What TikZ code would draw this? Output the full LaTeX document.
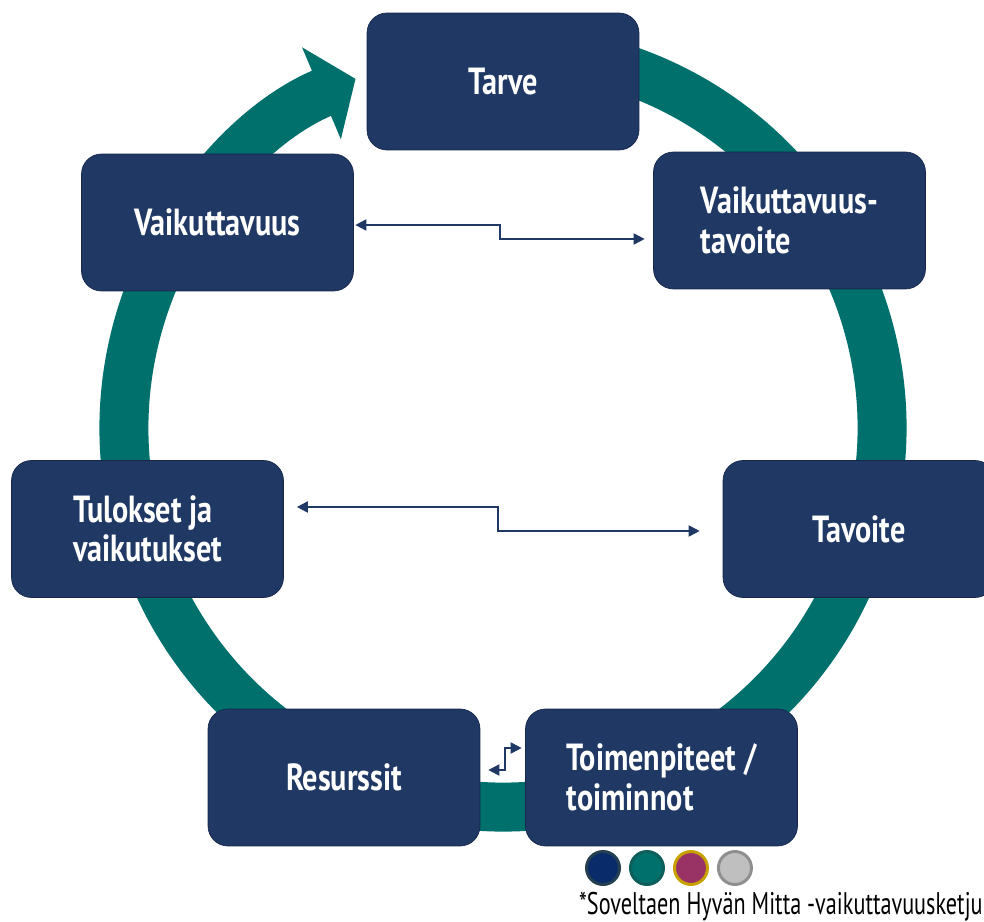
\documentclass[tikz,border=0pt]{standalone}
\usepackage{fontspec}
\setmainfont[FakeStretch=0.8]{PT Sans}
\newfontfamily\notefont[FakeStretch=0.71]{PT Sans}
\usetikzlibrary{arrows.meta,positioning,calc}
\definecolor{navy}{HTML}{203864}
\definecolor{navyline}{HTML}{15264A}
\definecolor{teal}{HTML}{00706C}
\definecolor{dotblue}{HTML}{0A2B6A}
\definecolor{dotslate}{HTML}{243F4F}
\definecolor{dotteal}{HTML}{0E5F5C}
\definecolor{plum}{HTML}{993366}
\definecolor{gold}{HTML}{C8A000}
\definecolor{silver}{HTML}{BFBFBF}
\definecolor{steel}{HTML}{8F8F8F}
\tikzset{stage/.style={draw=navyline,fill=navy,rounded corners=0.4cm,minimum width=5.44cm,minimum height=2.74cm,text=white,align=left,font=\fontsize{21.5}{22.5}\selectfont\bfseries}, link/.style={{Triangle[length=2.2mm,width=2.2mm]}-{Triangle[length=2.2mm,width=2.2mm]},line width=1.1pt,draw=navy}, ring/.style={line width=0.98cm,draw=teal,-{Triangle[length=0.74cm,width=1.96cm]}}, dot/.style={circle,minimum size=0.66cm,line width=1.7pt,inner sep=0pt}}
\begin{document}
\begin{tikzpicture}[x=0.02cm,y=0.02cm]
\useasboundingbox (0,0) rectangle (984,921);
\coordinate (hub) at (503,493);
\draw[ring] (hub) ++(75:379) arc[start angle=75,end angle=-247.1,radius=379];
% stages of the chain
\node[stage] (tarve) at (503,839.5) {Tarve};
\node[stage] (vk) at (217.5,698.5) {Vaikuttavuus};
\node[stage] (vt) at (789.5,700.5) {Vaikuttavuus-\\tavoite};
\node[stage] (tu) at (147.5,392) {Tulokset ja\\vaikutukset};
\node[stage] (ta) at (859,392) {Tavoite};
\node[stage] (re) at (344,143.5) {Resurssit};
\node[stage] (to) at (661.5,143.5) {Toimenpiteet /\\toiminnot};
% two-way links
\coordinate (a1) at ($(vk.east)+(1.5,-2.5)$);
\coordinate (a2) at ($(vt.west)+(-8.5,-18.5)$);
\draw[link] (a1) -| ($(a1)!.5!(a2)$) |- (a2);
\coordinate (b1) at ($(tu.east)+(13,22)$);
\coordinate (b2) at ($(ta.west)+(-23,-2)$);
\draw[link] (b1) -| ($(b1)!.5!(b2)$) |- (b2);
\coordinate (c1) at ($(re.east)+(8,7.5)$);
\coordinate (c2) at ($(to.west)+(-3.5,29.5)$);
\draw[link] (c1) -| ($(c1)!.5!(c2)$) |- (c2);
% colour dots and source note
\node[dot,draw=dotslate,fill=dotblue] (d1) at (603,53) {};
\node[dot,draw=dotteal,fill=teal,right=0.16cm of d1] (d2) {};
\node[dot,draw=gold,fill=plum,right=0.16cm of d2] (d3) {};
\node[dot,draw=steel,fill=silver,right=0.16cm of d3] (d4) {};
\node[anchor=base east,inner sep=0pt,font=\notefont\fontsize{17.8}{20}\selectfont] (note) at (983,7) {*Soveltaen Hyvän Mitta -vaikuttavuusketju};
\end{tikzpicture}
\end{document}
